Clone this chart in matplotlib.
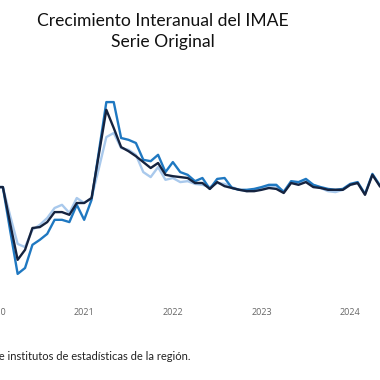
import matplotlib
matplotlib.use("Agg")
import matplotlib.pyplot as plt
import numpy as np
import pandas as pd

# meses desde enero 2020
meses = pd.date_range("2020-01-01", "2024-05-01", freq="MS")

# crecimiento interanual (%)
imae_total = [3.7, 3.7, -4.4, -12.3, -10.1, -5.3, -5.1, -4.0, -1.8, -1.8, -2.4, 0.2,
              0.2, 1.3, 11.0, 20.7, 16.7, 12.5, 11.6, 10.5, 9.2, 7.9, 9.0, 6.4,
              6.1, 5.9, 5.7, 4.6, 4.6, 3.3, 4.8, 3.9, 3.5, 3.1, 2.8, 2.8,
              3.1, 3.5, 3.3, 2.4, 4.6, 4.2, 4.8, 3.7, 3.5, 3.1, 3.1, 3.1,
              4.2, 4.6, 2.0, 6.4, 3.9]
imae_serie2 = [3.7, 3.7, -6.0, -15.4, -14.1, -9.0, -7.9, -6.6, -3.5, -3.5, -4.0, -0.2,
               -3.5, 0.9, 11.6, 22.4, 22.4, 14.5, 14.1, 13.4, 9.7, 9.4, 10.8, 7.0,
               9.2, 7.0, 6.4, 5.0, 5.7, 3.3, 5.5, 5.7, 3.5, 3.1, 3.1, 3.3,
               3.7, 4.2, 4.2, 2.6, 5.0, 4.8, 5.5, 4.2, 3.7, 3.3, 3.1, 3.3,
               4.4, 4.8, 2.2, 6.6, 4.1]
imae_serie3 = [3.7, 3.7, -2.7, -8.8, -9.5, -5.7, -4.6, -3.1, -0.9, -0.2, -2.0, 1.3,
               0.2, 1.3, 7.9, 14.7, 15.6, 12.3, 11.9, 10.8, 7.0, 5.9, 8.1, 5.3,
               5.7, 4.8, 5.0, 4.4, 4.2, 3.7, 4.6, 4.4, 3.7, 3.1, 2.8, 3.1,
               3.5, 3.9, 3.9, 2.8, 4.8, 4.6, 5.3, 4.2, 3.5, 2.8, 2.6, 3.1,
               4.2, 4.6]
anios = ["2020", "2021", "2022", "2023", "2024"]

x = np.arange(len(meses))

fig = plt.figure(figsize=(3.8, 3.8), dpi=100)
# el grafico original esta recortado: los ejes salen del lienzo
ax = fig.add_axes([-40 / 380, 80 / 380, 460 / 380, 240 / 380])

ax.plot(x[:len(imae_serie3)], imae_serie3, color="#a9c9ec", lw=1.7)
ax.plot(x, imae_serie2, color="#1f78c1", lw=1.7)
ax.plot(x, imae_total, color="#15233f", lw=1.7)

ax.set_xlim(-4.8, 57.44)
ax.set_ylim(-21.14, 31.66)
ax.set_xticks([12 * i for i in range(len(anios))])
ax.set_xticklabels(anios, fontsize=6.5, color="#666666", family="Open Sans")
ax.tick_params(axis="x", length=0, pad=6)
ax.set_yticks([])
for s in ax.spines.values():
    s.set_visible(False)

fig.text(163 / 380, 1 - 21 / 380, "Crecimiento Interanual del IMAE",
         ha="center", va="center", fontsize=12.6, family="Lato", color="#111111")
fig.text(163 / 380, 1 - 42 / 380, "Serie Original",
         ha="center", va="center", fontsize=12.6, family="Lato", color="#111111")
fig.text(191 / 380, 1 - 357 / 380,
         "Fuente: SECMCA con datos de bancos centrales e institutos de estadísticas de la región.",
         ha="right", va="center", fontsize=8.0, family="Lato", color="#222222")

fig.savefig("out.png", dpi=100)
